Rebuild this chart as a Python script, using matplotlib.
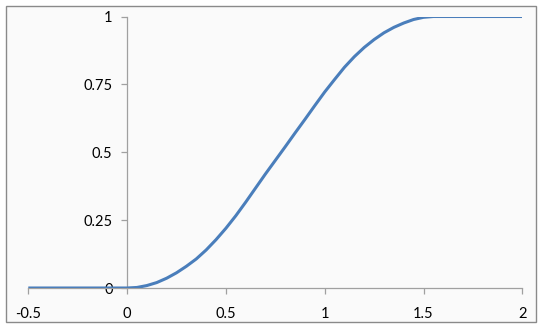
import matplotlib
matplotlib.use('Agg')
import matplotlib.pyplot as plt
from matplotlib.patches import Rectangle

# values
x_vals = [-0.5, 0.0, 0.05, 0.1, 0.15, 0.2, 0.25, 0.3, 0.35, 0.4, 0.45, 0.5,
          0.55, 0.6, 0.65, 0.7, 0.75, 0.8, 0.85, 0.9, 0.95, 1.0, 1.05, 1.1,
          1.15, 1.2, 1.25, 1.3, 1.35, 1.4, 1.45, 1.5, 1.55, 2.0]
y_vals = [0.0, 0.0, 0.002, 0.009, 0.02, 0.036, 0.056, 0.08, 0.107, 0.14, 0.178, 0.22,
          0.266, 0.316, 0.368, 0.42, 0.47, 0.52, 0.571, 0.621, 0.672, 0.722, 0.768, 0.813,
          0.852, 0.886, 0.915, 0.94, 0.96, 0.976, 0.989, 0.997, 1.0, 1.0]
x_ticks = [-0.5, 0, 0.5, 1, 1.5, 2]
x_labels = ['-0.5', '0', '0.5', '1', '1.5', '2']
y_ticks = [0, 0.25, 0.5, 0.75, 1]
y_labels = ['0', '0.25', '0.5', '0.75', '1']

W, H = 540, 330
fig = plt.figure(figsize=(W / 100, H / 100), dpi=100)
fig.patch.set_facecolor('white')

# chart area frame
frame = Rectangle((5.5 / W, 1 - 322 / H), 530 / W, 316.5 / H, transform=fig.transFigure,
                  facecolor='#fafafa', edgecolor='#8a8a8a', linewidth=1.0, zorder=-1)
fig.patches.append(frame)

x0, x1 = 28.3, 522.3
y0, y1 = 288, 16.5
ax = fig.add_axes([x0 / W, 1 - y0 / H, (x1 - x0) / W, (y0 - y1) / H])
ax.set_zorder(1)
ax.patch.set_visible(False)
ax.set_xlim(-0.5, 2)
ax.set_ylim(0, 1)

ax.plot(x_vals, y_vals, color='#4a7ebb', linewidth=2.2, solid_capstyle='butt',
        solid_joinstyle='round', zorder=3)

for s in ['top', 'right']:
    ax.spines[s].set_visible(False)
ax.spines['left'].set_position(('data', 0))
ax.spines['bottom'].set_position(('data', 0))
for s in ['left', 'bottom']:
    ax.spines[s].set_color('#a0a0a0')
    ax.spines[s].set_linewidth(0.9)

ax.set_xticks(x_ticks)
ax.set_xticklabels(x_labels)
ax.set_yticks(y_ticks)
ax.set_yticklabels(y_labels)
ax.tick_params(axis='both', colors='#a0a0a0', labelcolor='black', labelsize=10.5,
               length=4, width=0.9, direction='out')
ax.tick_params(axis='y', pad=6.5)
ax.tick_params(axis='x', pad=9.5)
for lab in ax.get_xticklabels() + ax.get_yticklabels():
    lab.set_family(['Lato', 'DejaVu Sans'])

fig.savefig('out.png', dpi=100)
